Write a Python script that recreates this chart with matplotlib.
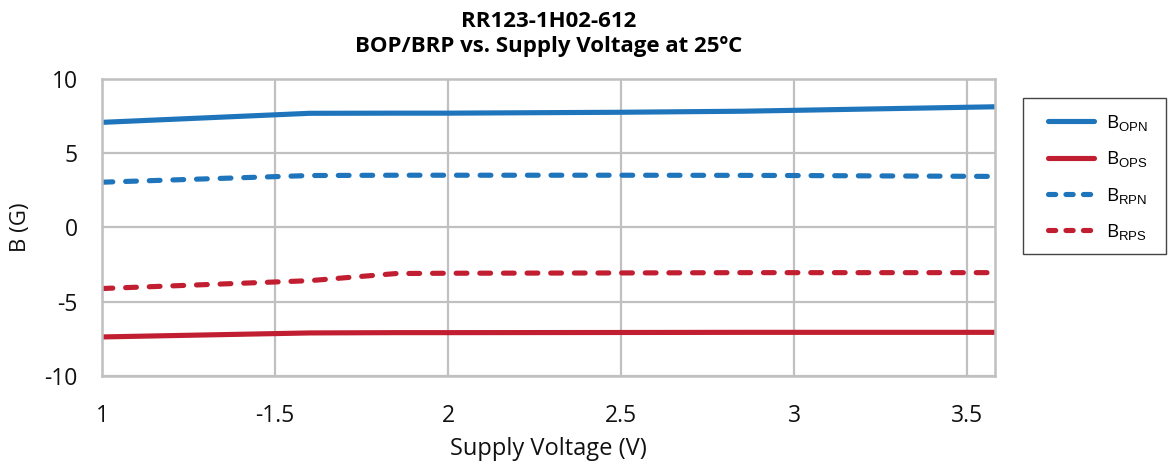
import matplotlib
matplotlib.use("Agg")
import matplotlib.pyplot as plt
from matplotlib.lines import Line2D
from matplotlib.patches import Rectangle

# ---- data ----
voltage = [1.0, 1.6, 1.85, 2.0, 2.5, 2.85, 3.0, 3.58]
b_opn = [7.08, 7.69, 7.70, 7.70, 7.76, 7.83, 7.89, 8.13]
b_ops = [-7.37, -7.10, -7.08, -7.08, -7.07, -7.06, -7.06, -7.06]
b_rpn = [3.05, 3.50, 3.52, 3.52, 3.52, 3.51, 3.50, 3.44]
b_rps = [-4.11, -3.58, -3.10, -3.08, -3.06, -3.04, -3.04, -3.04]

x_ticks = [1.0, 1.5, 2.0, 2.5, 3.0, 3.5]
x_tick_labels = ["1", "-1.5", "2", "2.5", "3", "3.5"]
y_ticks = [10, 5, 0, -5, -10]
y_tick_labels = ["10", "5", "0", "-5", "-10"]
series_labels = [r"B$_{\mathrm{OPN}}$", r"B$_{\mathrm{OPS}}$",
                 r"B$_{\mathrm{RPN}}$", r"B$_{\mathrm{RPS}}$"]

BLUE = "#1f75bb"
RED = "#c11f31"
GRID = "#c0c0c0"
W, H = 1168, 465

plt.rcParams["font.family"] = ["Open Sans", "DejaVu Sans"]
plt.rcParams["mathtext.fontset"] = "custom"
plt.rcParams["mathtext.rm"] = "Liberation Sans"
plt.rcParams["mathtext.it"] = "Liberation Sans"

fig = plt.figure(figsize=(W / 100, H / 100), dpi=100)
ax_l, ax_r, ax_t, ax_b = 102, 995, 79, 376
ax = fig.add_axes([ax_l / W, 1 - ax_b / H, (ax_r - ax_l) / W, (ax_b - ax_t) / H])

lw = 3.7
dash = (2.1, 2.5)
ax.plot(voltage, b_opn, color=BLUE, lw=lw, solid_capstyle="butt")
ax.plot(voltage, b_ops, color=RED, lw=lw, solid_capstyle="butt")
ax.plot(voltage, b_rpn, color=BLUE, lw=lw, dashes=dash, dash_capstyle="round")
ax.plot(voltage, b_rps, color=RED, lw=lw, dashes=dash, dash_capstyle="round")

ax.set_xlim(1.0, 3.58)
ax.set_ylim(-10, 10)
ax.set_xticks(x_ticks)
ax.set_xticklabels(x_tick_labels)
ax.set_yticks(y_ticks)
ax.set_yticklabels(y_tick_labels)
ax.tick_params(axis="both", length=0, labelsize=16.5, colors="#111111")
ax.tick_params(axis="y", pad=17.5)
ax.tick_params(axis="x", pad=20)
ax.grid(True, color=GRID, lw=1.6)
ax.set_axisbelow(True)
for s in ax.spines.values():
    s.set_color(GRID)
    s.set_linewidth(1.8)

ax.set_xlabel("Supply Voltage (V)", fontsize=17, color="#111111", va="top")
ax.xaxis.set_label_coords(0.5, (ax_b - 437) / (ax_b - ax_t))
ax.set_ylabel("B (G)", fontsize=16, color="#111111")
ax.yaxis.set_label_coords((31 - ax_l) / (ax_r - ax_l), 0.5)

cx = (ax_l + ax_r) / 2 / W
fig.text(cx, 1 - 27 / H, "RR123-1H02-612", ha="center", va="baseline",
         fontsize=16, fontweight="bold")
fig.text(cx, 1 - 52 / H, "BOP/BRP vs. Supply Voltage at 25ºC", ha="center",
         va="baseline", fontsize=16, fontweight="bold")

# legend frame
fig.add_artist(Rectangle((1023 / W, 1 - 254 / H), (1166 - 1023) / W, (254 - 98) / H,
                         transform=fig.transFigure, fill=False,
                         edgecolor="#444444", lw=1.0))

h1 = Line2D([], [], color=BLUE, lw=lw, solid_capstyle="round")
h2 = Line2D([], [], color=RED, lw=lw, solid_capstyle="round")
h3 = Line2D([], [], color=BLUE, lw=lw, dashes=(1.4, 2.0), dash_capstyle="round")
h4 = Line2D([], [], color=RED, lw=lw, dashes=(1.4, 2.0), dash_capstyle="round")
leg = fig.legend([h1, h2, h3, h4], series_labels, loc="upper left",
                 bbox_to_anchor=(1048 / W, 1 - 113 / H),
                 bbox_transform=fig.transFigure, borderaxespad=0,
                 frameon=False, fontsize=13.5, handlelength=2.45,
                 handletextpad=0.62, labelspacing=0.87, borderpad=0)

fig.savefig("out.png", dpi=100)
